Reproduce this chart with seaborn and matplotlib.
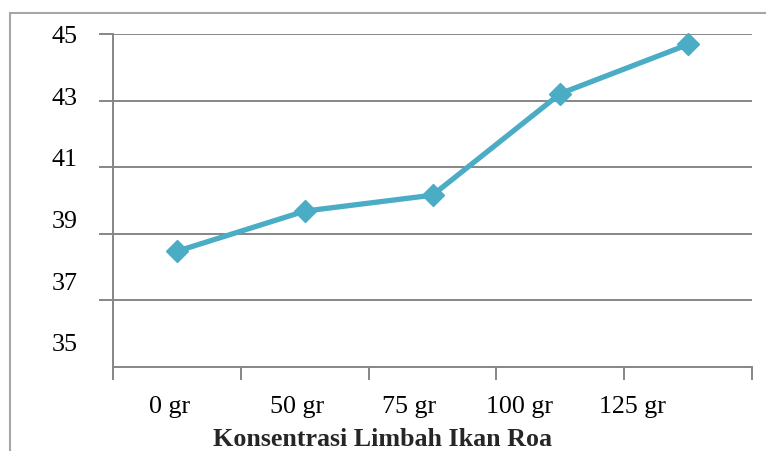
import numpy as np
import matplotlib
matplotlib.use("Agg")
import matplotlib.pyplot as plt
from matplotlib.patches import Rectangle
import seaborn as sns

# Concentration categories and measured values
categories = ["0 gr", "50 gr", "75 gr", "100 gr", "125 gr"]
values = [38.47, 39.68, 40.16, 43.22, 44.70]
y_ticks = [35, 37, 39, 41, 43, 45]
x_label = "Konsentrasi Limbah Ikan Roa"

# Where each category label sits along the axis (category units)
label_pos = [-0.054, 0.940, 1.816, 2.677, 3.561]

sns.set_theme(style="white")
plt.rcParams["font.family"] = ["Liberation Serif", "DejaVu Serif"]

W, H = 766, 451
fig = plt.figure(figsize=(W / 100, H / 100), dpi=100)
ax = fig.add_axes([113 / W, 1 - 366.5 / H, (752 - 113) / W, (366.5 - 33.5) / H])

grid_c = "#868686"
line_c = "#4BACC6"
fs = 18.7

x = np.arange(len(categories))
sns.lineplot(x=x, y=values, ax=ax, color=line_c, linewidth=3.8,
             marker="D", markersize=11.5, markeredgecolor=line_c,
             markeredgewidth=1, zorder=3, clip_on=False)

ax.set_xlim(-0.5, len(categories) - 0.5)
ax.set_ylim(35, 45.03)

# Horizontal gridlines
ax.yaxis.remove_overlapping_locs = False
ax.xaxis.remove_overlapping_locs = False
ax.set_yticks(y_ticks[1:])
ax.yaxis.grid(True, color=grid_c, linewidth=1.4)
ax.xaxis.grid(False)
ax.set_yticklabels([])
ax.tick_params(axis="y", which="major", length=10, width=1.4, color=grid_c,
               left=True, direction="out")

# Y labels drawn as minor ticks with no tick mark
y_label_pos = [v + (45 - v) * 0.0714 for v in y_ticks]
ax.set_yticks(y_label_pos, minor=True)
ax.set_yticklabels([str(v) for v in y_ticks], minor=True)
ax.tick_params(axis="y", which="minor", length=0, pad=25.5, labelsize=fs,
               labelcolor="black")

# Category boundary ticks on the x axis
ax.set_xticks(np.arange(-0.5, len(categories)))
ax.set_xticklabels([])
ax.tick_params(axis="x", which="major", length=9, width=1.4, color=grid_c,
               bottom=True, direction="out")
ax.set_xticks(label_pos, minor=True)
ax.set_xticklabels(categories, minor=True)
ax.tick_params(axis="x", which="minor", length=0, pad=21, labelsize=fs,
               labelcolor="black")

for side in ["top", "right"]:
    ax.spines[side].set_visible(False)
for side in ["left", "bottom"]:
    ax.spines[side].set_color(grid_c)
    ax.spines[side].set_linewidth(1.4)

ax.set_xlabel(x_label, fontsize=fs, fontweight="bold")
ax.xaxis.set_label_coords(0.4218, -0.218)
ax.xaxis.label.set_verticalalignment("center")
ax.set_ylabel("")

# Chart frame
fig.patches.append(Rectangle((10 / W, -0.1), 1.2, 1 - 13 / H + 0.1,
                             transform=fig.transFigure, fill=False,
                             edgecolor="#A6A6A6", linewidth=1.5))

fig.savefig("out.png", dpi=100)
